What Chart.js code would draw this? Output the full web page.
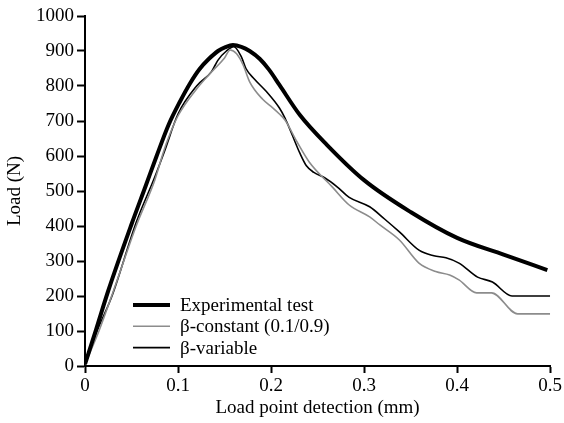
<!DOCTYPE html>
<html>
<head>
<meta charset="utf-8">
<script src="https://cdn.jsdelivr.net/npm/chart.js@4"></script>
<style>
  html, body { margin: 0; padding: 0; background: #fff; }
  canvas { display: block; }
</style>
</head>
<body>
<canvas id="chart" width="564" height="423"></canvas>
<script>
// ---- Data ----
const expX = [0, 0.012, 0.025, 0.05, 0.065, 0.077, 0.09, 0.102, 0.113, 0.123, 0.133, 0.143, 0.151, 0.159, 0.168, 0.177, 0.188, 0.198, 0.209, 0.231, 0.26, 0.3, 0.35, 0.4, 0.45, 0.497];
const expY = [5, 105, 215, 405, 513, 600, 690, 755, 808, 848, 877, 900, 911, 917, 912, 900, 877, 846, 803, 717, 632, 531, 440, 366, 318, 274];

const constX = [0, 0.015, 0.03, 0.055, 0.075, 0.083, 0.088, 0.1, 0.121, 0.136, 0.15, 0.156, 0.163, 0.17, 0.177, 0.191, 0.2, 0.209, 0.215, 0.228, 0.241, 0.266, 0.284, 0.306, 0.317, 0.338, 0.359, 0.377, 0.392, 0.402, 0.421, 0.437, 0.465, 0.5];
const constY = [5, 100, 210, 400, 531, 600, 640, 715, 795, 840, 880, 903, 892, 860, 812, 762, 742, 720, 703, 640, 583, 511, 460, 426, 403, 360, 294, 270, 260, 246, 209, 209, 149, 149];

const varX = [0, 0.013, 0.029, 0.055, 0.075, 0.085, 0.1, 0.12, 0.136, 0.14, 0.143, 0.152, 0.16, 0.168, 0.173, 0.182, 0.195, 0.209, 0.215, 0.222, 0.231, 0.238, 0.246, 0.258, 0.271, 0.284, 0.306, 0.322, 0.338, 0.359, 0.375, 0.388, 0.402, 0.422, 0.438, 0.459, 0.5];
const varY = [5, 100, 200, 410, 540, 610, 720, 800, 841, 860, 874, 900, 912, 884, 850, 820, 784, 737, 708, 665, 608, 572, 553, 537, 512, 482, 455, 420, 383, 331, 315, 309, 294, 254, 240, 200, 200];

const seriesLabels = ['Experimental test', 'β-constant (0.1/0.9)', 'β-variable'];
const xTicks = [0, 0.1, 0.2, 0.3, 0.4, 0.5];
const yTicks = [0, 100, 200, 300, 400, 500, 600, 700, 800, 900, 1000];

const FONT = '"Liberation Serif", "Times New Roman", serif';

function toPoints(xs, ys) {
  return xs.map((x, i) => ({ x, y: ys[i] }));
}

// legend drawn inside the plot, bottom-left
const insideLegend = {
  id: 'insideLegend',
  afterDraw(chart) {
    const ctx = chart.ctx;
    ctx.save();
    ctx.font = '19px ' + FONT;
    ctx.textBaseline = 'middle';
    ctx.textAlign = 'left';
    chart.data.datasets.forEach((ds, i) => {
      const y = 305 + i * 21.3;
      ctx.strokeStyle = ds.borderColor;
      ctx.lineWidth = ds.borderWidth;
      ctx.beginPath();
      ctx.moveTo(133, y);
      ctx.lineTo(170, y);
      ctx.stroke();
      ctx.fillStyle = '#000';
      ctx.fillText(ds.label, 180, y + 1);
    });
    ctx.restore();
  },
};

const tickFmt = (v) => String(+Number(v).toFixed(1));

new Chart(document.getElementById('chart'), {
  type: 'line',
  data: {
    datasets: [
      {
        label: seriesLabels[0],
        data: toPoints(expX, expY),
        borderColor: '#000',
        borderWidth: 4,
        pointRadius: 0,
        cubicInterpolationMode: 'monotone',
      },
      {
        label: seriesLabels[1],
        data: toPoints(constX, constY),
        borderColor: '#8c8c8c',
        borderWidth: 1.6,
        pointRadius: 0,
        cubicInterpolationMode: 'monotone',
      },
      {
        label: seriesLabels[2],
        data: toPoints(varX, varY),
        borderColor: '#000',
        borderWidth: 1.6,
        pointRadius: 0,
        cubicInterpolationMode: 'monotone',
      },
    ],
  },
  options: {
    responsive: false,
    animation: false,
    layout: { padding: { top: 16, right: 12, bottom: 0, left: 0 } },
    plugins: {
      legend: { display: false },
      tooltip: { enabled: false },
    },
    scales: {
      x: {
        type: 'linear',
        min: 0,
        max: 0.5,
        afterBuildTicks: (s) => { s.ticks = xTicks.map((v) => ({ value: v })); },
        afterFit: (s) => { s.height = 57; },
        ticks: { color: '#000', font: { family: FONT, size: 19 }, padding: 2, callback: tickFmt, maxRotation: 0 },
        grid: { drawOnChartArea: false, drawTicks: true, tickLength: 7, tickWidth: 2, tickColor: '#000' },
        border: { display: true, color: '#000', width: 2 },
        title: { display: true, text: 'Load point detection (mm)', color: '#000', font: { family: FONT, size: 19 }, padding: { top: 0, bottom: 4 } },
      },
      y: {
        min: 0,
        max: 1000,
        afterBuildTicks: (s) => { s.ticks = yTicks.map((v) => ({ value: v })); },
        afterFit: (s) => { s.width = 85; },
        ticks: { color: '#000', font: { family: FONT, size: 19 }, padding: 3, callback: tickFmt },
        grid: { drawOnChartArea: false, drawTicks: true, tickLength: 8, tickWidth: 2, tickColor: '#000' },
        border: { display: true, color: '#000', width: 2 },
        title: { display: true, text: 'Load (N)', color: '#000', font: { family: FONT, size: 19 }, padding: { top: 4, bottom: 0 } },
      },
    },
  },
  plugins: [insideLegend],
});
</script>
</body>
</html>
